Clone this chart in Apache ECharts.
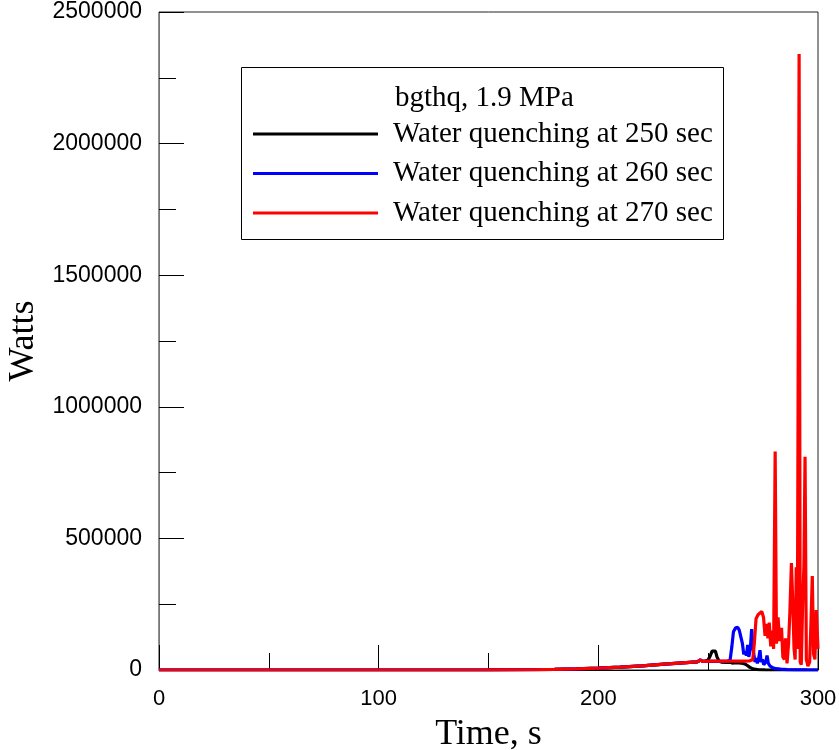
<!DOCTYPE html>
<html>
<head>
<meta charset="utf-8">
<script src="https://cdn.jsdelivr.net/npm/echarts@6/dist/echarts.min.js"></script>
<style>
html,body{margin:0;padding:0;background:#fff;}
#chart{width:839px;height:750px;}
</style>
</head>
<body>
<div id="chart"></div>
<script>
// ---- data ----
const seriesNames = ['Water quenching at 250 sec', 'Water quenching at 260 sec', 'Water quenching at 270 sec'];
const seriesColors = ['#000000', '#0000ff', '#ff0000'];
const legendTitle = 'bgthq, 1.9 MPa';
const xTicks = [0, 100, 200, 300];
const yTicks = [0, 500000, 1000000, 1500000, 2000000, 2500000];

const baseData = [[0,0],[50,0],[100,0],[150,300],[170,1000],[180,2000],[190,4000],[200,7000],[210,11000],[220,16000],[230,22000],[240,28000],[245,31000],[246.5,38000],[247.5,33000]];

const black250 = [[248.5,33000],[250,38000],[251,55000],[251.8,72000],[252.5,76000],[253.3,72000],[254,50000],[255,33000],[256,30000],[258,29000],[260,30000],[261,26000],[262,28000],[264,27000],[266,25000],[267,22000],[268,16000],[269,10000],[270,6000],[271,3000],[273,1000],[276,300],[280,0],[300,0]];

const blue260 = [[250,33000],[255,33000],[259,34000],[260,38000],[260.8,90000],[261.5,145000],[262.5,160000],[263.5,162000],[264.2,150000],[265,155000],[265.6,100000],[266.2,60000],[266.8,70000],[267.4,55000],[268,95000],[268.5,50000],[269.2,80000],[269.8,155000],[270.3,160000],[270.8,60000],[271.3,30000],[271.9,45000],[272.4,25000],[273,45000],[273.6,75000],[274.1,30000],[274.7,40000],[275.3,20000],[276.2,30000],[276.8,55000],[277.4,25000],[278.2,15000],[279.5,8000],[281,5000],[283,3000],[286,1500],[290,800],[295,300],[300,0]];

const red270 = [[250,34000],[255,34000],[260,34000],[265,34000],[269,35000],[270.3,40000],[271,100000],[271.8,195000],[272.7,210000],[273.6,215000],[274.4,222000],[275.2,200000],[275.9,130000],[276.5,175000],[277.2,120000],[277.8,180000],[278.5,90000],[279.2,150000],[279.8,80000],[280.5,830000],[281.1,100000],[281.8,200000],[282.6,110000],[283.4,160000],[284,50000],[284.7,40000],[285.2,120000],[285.9,25000],[286.6,100000],[287.2,220000],[287.9,406000],[288.5,260000],[289.1,80000],[289.6,40000],[290.1,390000],[290.6,80000],[291.4,2340000],[291.9,30000],[292.4,20000],[293,250000],[293.6,400000],[294.1,810000],[294.7,40000],[295.4,15000],[296.2,30000],[296.8,180000],[297.4,357000],[298,60000],[298.6,40000],[299.2,228000],[300,80000]];

const seriesData = [baseData.concat(black250), baseData.concat(blue260), baseData.concat(red270)];

// ---- chart ----
const chart = echarts.init(document.getElementById('chart'), null, {renderer: 'canvas'});
const serif = 'Liberation Serif';
const sans = 'Liberation Sans';

chart.setOption({
  animation: false,
  backgroundColor: '#ffffff',
  grid: {left: 159, right: 21, top: 12, bottom: 80, containLabel: false, outerBoundsMode: 'none',
         show: true, borderColor: '#222', borderWidth: 1, backgroundColor: 'transparent'},
  title: {
    text: legendTitle, left: 390, top: 78,
    textStyle: {fontFamily: serif, fontSize: 29, fontWeight: 'normal', color: '#000', lineHeight: 30}
  },
  legend: {
    orient: 'vertical', left: 248, top: 114,
    icon: 'rect', itemWidth: 125, itemHeight: 3, itemGap: 9.5,
    data: seriesNames,
    textStyle: {fontFamily: serif, fontSize: 29, color: '#000', lineHeight: 30, padding: [0, 0, 0, 10]},
    z: 10
  },
  graphic: [{
    type: 'rect', z: 5,
    shape: {x: 241.5, y: 67.5, width: 482, height: 172},
    style: {fill: '#fff', stroke: '#000', lineWidth: 1}
  }],
  xAxis: {
    type: 'value', min: xTicks[0], max: xTicks[xTicks.length - 1], interval: 100,
    name: 'Time, s', nameLocation: 'middle', nameGap: 47,
    nameTextStyle: {fontFamily: serif, fontSize: 36, color: '#000'},
    axisLine: {lineStyle: {color: '#000', width: 1}},
    axisTick: {inside: true, length: 25, lineStyle: {color: '#000'}},
    minorTick: {show: true, splitNumber: 2, length: 17, lineStyle: {color: '#000'}},
    splitLine: {show: false},
    axisLabel: {fontFamily: sans, fontSize: 22, color: '#000', margin: 18}
  },
  yAxis: {
    type: 'value', min: yTicks[0], max: yTicks[yTicks.length - 1], interval: 500000,
    name: 'Watts', nameLocation: 'middle', nameGap: 108,
    nameTextStyle: {fontFamily: serif, fontSize: 36, color: '#000'},
    axisLine: {show: true, lineStyle: {color: '#777', width: 1}},
    axisTick: {show: true, inside: true, length: 25, lineStyle: {color: '#000'}},
    minorTick: {show: true, splitNumber: 2, length: 17, lineStyle: {color: '#000'}},
    splitLine: {show: false},
    axisLabel: {fontFamily: sans, fontSize: 23, color: '#000', margin: 17, formatter: v => String(v)}
  },
  series: seriesNames.map((n, i) => ({
    name: n, type: 'line', data: seriesData[i], symbol: 'none', smooth: false,
    lineStyle: {color: seriesColors[i], width: 3.2},
    itemStyle: {color: seriesColors[i]},
    z: 2 + i
  }))
});
</script>
</body>
</html>
